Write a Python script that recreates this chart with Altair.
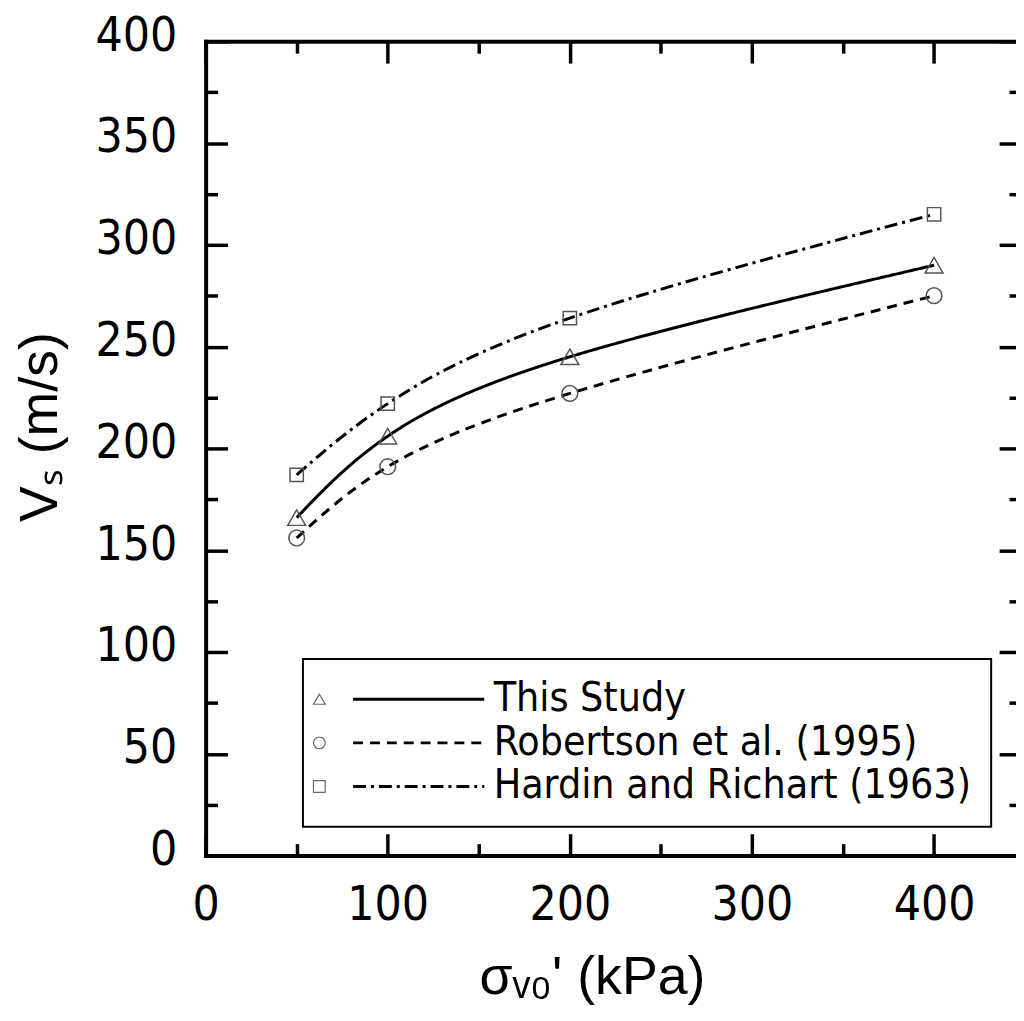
import altair as alt
import pandas as pd

# ---- data ----
stress_kpa = [50, 100, 200, 400]
vs_this_study = [166, 206, 245, 290]
vs_robertson = [156, 191, 227, 275]
vs_hardin = [187, 222, 264, 315]
series_names = ["This Study", "Robertson et al. (1995)", "Hardin and Richart (1963)"]
x_major_ticks = [0, 100, 200, 300, 400]
x_minor_ticks = [50, 150, 250, 350]
y_major_ticks = [0, 50, 100, 150, 200, 250, 300, 350, 400]
y_minor_ticks = [25, 75, 125, 175, 225, 275, 325, 375]

records = []
for name, values in zip(series_names, [vs_this_study, vs_robertson, vs_hardin]):
    for s, v in zip(stress_kpa, values):
        records.append({"stress": s, "vs": v, "series": name, "marker": name})
df = pd.DataFrame(records)

TICK_FONT = "'DejaVu Sans Condensed', 'Noto Sans'"
TITLE_FONT = "Liberation Sans"

x_scale = alt.Scale(domain=[0, 445], nice=False, zero=False)
y_scale = alt.Scale(domain=[0, 400], nice=False, zero=False)


def make_axis(orient, values, size, labels=False, domain=False, **kw):
    return alt.Axis(
        orient=orient, values=values, tickSize={"expr": str(size)},
        tickWidth=3.5, tickColor="black", domain=domain, domainColor="black",
        domainWidth=4, domainCap="square", labels=labels, grid=False, **kw
    )


label_kw = dict(labelFont=TICK_FONT, labelFontSize=48, labelColor="black",
                labelFlush=False, labelOverlap=False)
title_kw = dict(titleFont=TITLE_FONT, titleFontSize=54, titleFontWeight="normal",
                titleColor="black")

lines = alt.Chart(df).mark_line(color="black", strokeWidth=3, interpolate="natural").encode(
    x=alt.X("stress:Q", scale=x_scale, title="σᵥ₀' (kPa)",
            axis=make_axis("bottom", x_major_ticks, -22, labels=True, domain=True,
                           labelPadding=48, titlePadding=22, titleX=389, **label_kw, **title_kw)),
    y=alt.Y("vs:Q", scale=y_scale, title="Vₛ (m/s)",
            axis=make_axis("left", y_major_ticks, -22, labels=True, domain=True,
                           labelPadding=51, labelOffset=-5, titlePadding=28, titleY=388,
                           **label_kw, **title_kw)),
    strokeDash=alt.StrokeDash(
        "series:N",
        scale=alt.Scale(domain=series_names, range=[[1, 0], [10, 7], [13, 5, 3, 5]]),
        legend=alt.Legend(
            orient="none", legendX=98, legendY=622, title=None, padding=20,
            strokeColor="black", labelFont=TICK_FONT, labelFontSize=41, labelColor="black",
            labelOffset=131, labelLimit=1000, symbolType="M10,0H142", symbolSize=4,
            symbolStrokeColor="black", symbolStrokeWidth=3, rowPadding=2,
        ),
    ),
)

points = alt.Chart(df).mark_point(filled=False, color="#555555", strokeWidth=1.5, opacity=1).encode(
    x=alt.X("stress:Q", scale=x_scale, title=None,
            axis=make_axis("bottom", x_minor_ticks, -12)),
    y=alt.Y("vs:Q", scale=y_scale, title=None,
            axis=make_axis("left", y_minor_ticks, -12)),
    shape=alt.Shape(
        "marker:N", sort=series_names,
        scale=alt.Scale(range=["triangle-up", "circle", "square"]),
        legend=alt.Legend(
            orient="none", legendX=74, legendY=622, title=None, padding=20,
            labelExpr="' '", labelFont=TICK_FONT, labelFontSize=41,
            symbolSize=140, symbolStrokeColor="#666666", symbolStrokeWidth=1.2,
            symbolFillColor="transparent", rowPadding=2, zindex=2,
        ),
    ),
    size=alt.Size("marker:N", sort=series_names,
                  scale=alt.Scale(range=[324, 180, 150]), legend=None),
)

frame_major = alt.Chart(df).mark_point(opacity=0).encode(
    x=alt.X("stress:Q", scale=x_scale, title=None,
            axis=make_axis("top", x_major_ticks, -22, domain=True)),
    y=alt.Y("vs:Q", scale=y_scale, title=None,
            axis=make_axis("right", y_major_ticks, -17)),
)

frame_minor = alt.Chart(df).mark_point(opacity=0).encode(
    x=alt.X("stress:Q", scale=x_scale, title=None,
            axis=make_axis("top", x_minor_ticks, -12)),
    y=alt.Y("vs:Q", scale=y_scale, title=None,
            axis=make_axis("right", y_minor_ticks, -7)),
)

chart = alt.layer(lines, points, frame_major, frame_minor).resolve_axis(
    x="independent", y="independent"
).properties(
    width=816, height=820,
    autosize=alt.AutoSizeParams(type="none"),
    padding={"left": 199, "top": 30, "right": 0, "bottom": 150},
    background="white",
).configure_view(stroke="transparent").configure_legend(strokeWidth=2)

chart.save("out.html", embed_options={"renderer": "svg", "actions": False})
